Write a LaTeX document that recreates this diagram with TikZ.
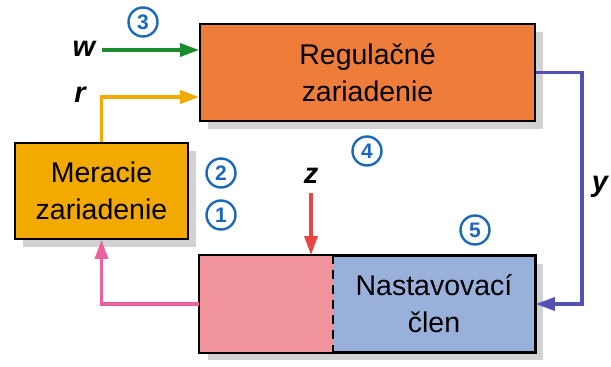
\documentclass[tikz,border=0pt]{standalone}
\usepackage{fontspec}
\setmainfont{Liberation Sans}
\usetikzlibrary{shadows,arrows.meta,calc}
\definecolor{cOrange}{HTML}{EE7D3B}
\definecolor{cYellow}{HTML}{F2A900}
\definecolor{cPink}{HTML}{F0939A}
\definecolor{cBlue}{HTML}{98B0DA}
\definecolor{cGreen}{HTML}{1A8C2E}
\definecolor{cPurple}{HTML}{5252B4}
\definecolor{cRed}{HTML}{E84545}
\definecolor{cMag}{HTML}{E8629E}
\definecolor{cNum}{HTML}{1C68B8}
\definecolor{cShadow}{HTML}{D2D2D2}
\tikzset{
  blk/.style={draw=black, line width=1.8pt, inner sep=0pt,
    drop shadow={shadow xshift=8pt, shadow yshift=-8pt, fill=cShadow, opacity=1}},
  blktext/.style={align=center, font=\fontsize{28.5}{37}\selectfont},
  conn/.style={line width=3.3pt, -{Triangle[length=19pt,width=13pt]}},
  var/.style={font=\fontsize{29}{30}\selectfont\bfseries\itshape, inner sep=0pt},
  num/.style={circle, draw=cNum, line width=2.4pt, minimum size=29pt, inner sep=0pt,
    text=cNum, font=\fontsize{21}{21}\selectfont\bfseries}
}
\begin{document}
\begin{tikzpicture}[x=1pt,y=-1pt]
\useasboundingbox[fill=white] (0,0) rectangle (611,367);
% blocks
\node[blk, fill=cOrange, minimum width=335pt, minimum height=97pt] (reg) at (367.5,72.5) {};
\node[blktext] (regt) at (reg.center) {Regulačné\\zariadenie};
\node[blk, fill=cYellow, minimum width=173pt, minimum height=96pt] (mer) at (101.5,191) {};
\node[blktext] (mert) at (mer.center) {Meracie\\zariadenie};
\node[blk, fill=cBlue, minimum width=335pt, minimum height=96pt] (nast) at (367.5,304) {};
\fill[cPink] (nast.north west) rectangle ($(nast.south west)+(134,0)$);
\draw[line width=1.8pt] (nast.north west) rectangle (nast.south east);
\coordinate (dtop) at ($(nast.north west)+(134,0)$);
\coordinate (dbot) at ($(nast.south west)+(134,0)$);
\draw[line width=2.2pt, dash pattern=on 9pt off 6pt] (dtop) -- (dbot);
\node[blktext] (nastt) at (434,304) {Nastavovací\\člen};
% connectors
\coordinate (wstart) at (102,50);
\draw[conn, cGreen] (wstart) -- (wstart -| reg.west);
\draw[conn, cYellow] (mer.north) |- ($(reg.west)+(0,24.5)$);
\draw[conn, cMag] (nast.west) -| (mer.south);
\draw[conn, cPurple] (reg.east) -- ++(46,0) |- (nast.east);
\coordinate (ztop) at (311,193);
\draw[conn, cRed] (ztop) -- (ztop |- nast.north);
% labels
\node[var] (w) at (84,49) {w};
\node[var] (r) at (80,95) {r};
\node[var] (z) at (311,176) {z};
\node[var] (y) at (600,187) {y};
% numbers
\node[num] (n3) at (143,22) {3};
\node[num] (n4) at (367,151) {4};
\node[num] (n2) at (221,173) {2};
\node[num] (n1) at (221,215) {1};
\node[num] (n5) at (475,230) {5};
\end{tikzpicture}
\end{document}
